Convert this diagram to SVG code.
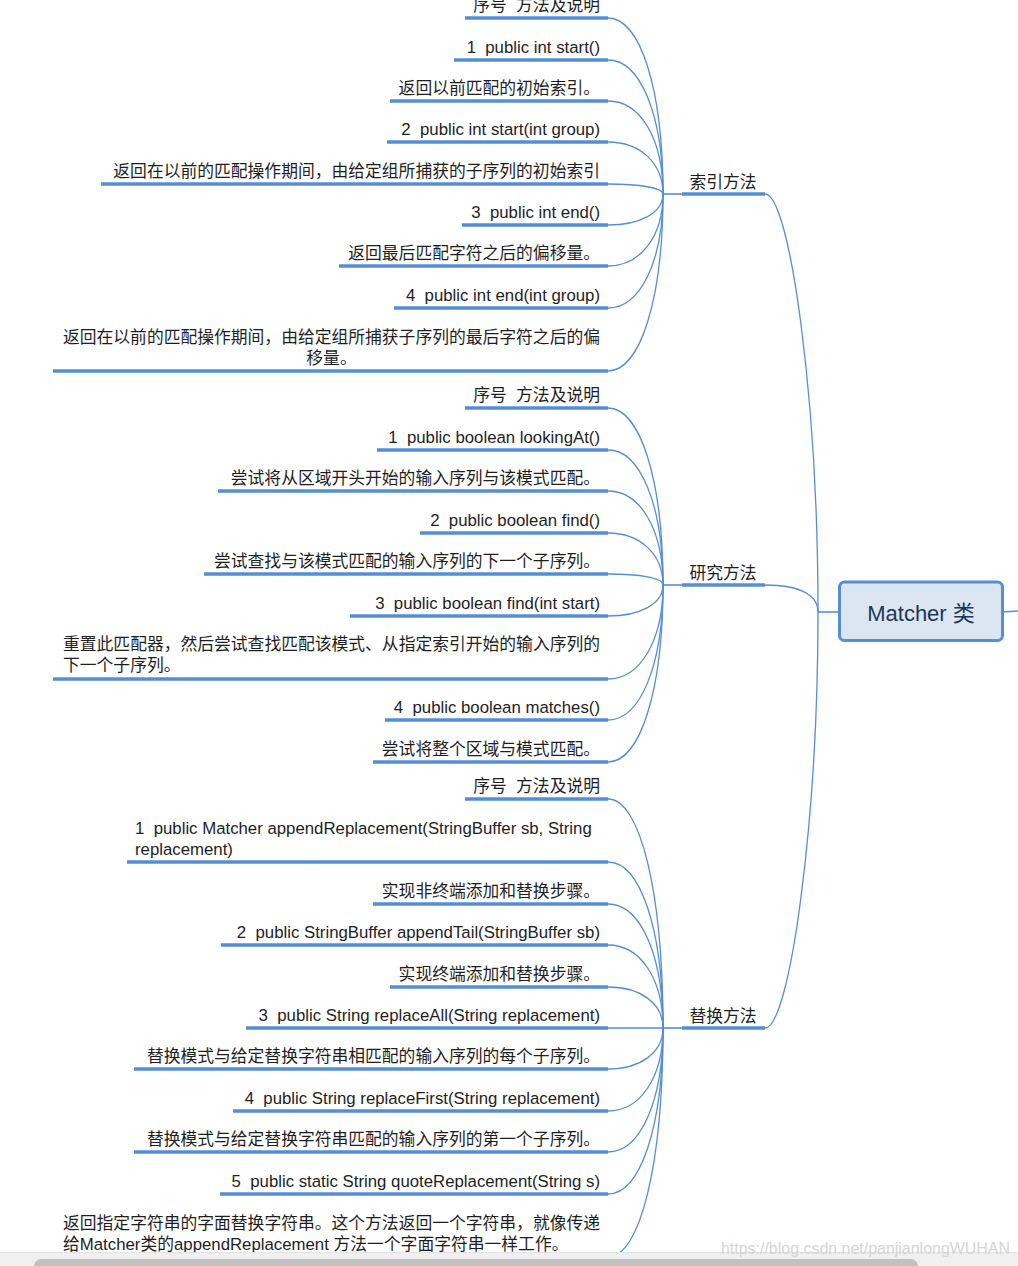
<svg xmlns="http://www.w3.org/2000/svg" width="1018" height="1266" viewBox="0 0 1018 1266">
<style>
text{font-family:"Liberation Sans","Noto Sans CJK SC",sans-serif;font-size:16.8px;fill:#1e1e1e;white-space:pre}
.r{text-anchor:end}
.m{text-anchor:middle}
.ul{stroke:#558ed5;stroke-width:3.4;fill:none}
.c{stroke:#558ed5;stroke-width:1.3;fill:none}
.cb{stroke:#558ed5;stroke-width:1.6;fill:none}
</style>
<rect width="1018" height="1266" fill="#ffffff"/>
<g id="connectors">
<path class="c" d="M608,18 C640,18 663,88 663,194"/>
<path class="c" d="M608,60 C640,60 663,114 663,194"/>
<path class="c" d="M608,101 C640,101 663,138 663,194"/>
<path class="c" d="M608,142 C640,142 663,163 663,194"/>
<path class="c" d="M608,184 C640,184 663,188 663,194"/>
<path class="c" d="M608,225 C640,225 663,213 663,194"/>
<path class="c" d="M608,266 C640,266 663,237 663,194"/>
<path class="c" d="M608,308 C640,308 663,262 663,194"/>
<path class="c" d="M608,371 C640,371 663,300 663,194"/>
<path class="cb" d="M663,194 L682,194"/>
<path class="c" d="M608,408 C640,408 663,479 663,585"/>
<path class="c" d="M608,450 C640,450 663,504 663,585"/>
<path class="c" d="M608,491 C640,491 663,529 663,585"/>
<path class="c" d="M608,533 C640,533 663,554 663,585"/>
<path class="c" d="M608,574 C640,574 663,578 663,585"/>
<path class="c" d="M608,616 C640,616 663,604 663,585"/>
<path class="c" d="M608,679 C640,679 663,641 663,585"/>
<path class="c" d="M608,720 C640,720 663,666 663,585"/>
<path class="c" d="M608,762 C640,762 663,691 663,585"/>
<path class="cb" d="M663,585 L682,585"/>
<path class="c" d="M608,799 C640,799 663,891 663,1028"/>
<path class="c" d="M608,862 C640,862 663,928 663,1028"/>
<path class="c" d="M608,904 C640,904 663,954 663,1028"/>
<path class="c" d="M608,945 C640,945 663,978 663,1028"/>
<path class="c" d="M608,987 C640,987 663,1003 663,1028"/>
<path class="c" d="M608,1028 L663,1028"/>
<path class="c" d="M608,1069 C640,1069 663,1053 663,1028"/>
<path class="c" d="M608,1111 C640,1111 663,1078 663,1028"/>
<path class="c" d="M608,1152 C640,1152 663,1102 663,1028"/>
<path class="c" d="M608,1194 C640,1194 663,1128 663,1028"/>
<path class="c" d="M608,1257 C640,1257 663,1165 663,1028"/>
<path class="cb" d="M663,1028 L682,1028"/>
<path class="c" d="M765,194 C790,194 818,400 818,612"/>
<path class="c" d="M765,585 C800,585 818,595 818,612"/>
<path class="c" d="M765,1028 C790,1028 818,820 818,612"/>
<path class="cb" d="M818,612 L840,612"/>
<path class="cb" d="M1002,612 L1018,611"/>
</g>
<g id="n-root">
<rect x="839.5" y="582" width="163" height="58.5" rx="5" fill="#dce6f2" stroke="#558ed5" stroke-width="3"/>
<text class="m" x="921" y="621" style="font-size:22px;fill:#1b3658">Matcher 类</text>
</g>
<g id="b-index">
<line class="ul" x1="682" y1="194" x2="765" y2="194"/>
<text class="m" x="723" y="188">索引方法</text>
</g>
<g id="b-study">
<line class="ul" x1="682" y1="585" x2="765" y2="585"/>
<text class="m" x="723" y="579">研究方法</text>
</g>
<g id="b-replace">
<line class="ul" x1="682" y1="1028" x2="765" y2="1028"/>
<text class="m" x="723" y="1022">替换方法</text>
</g>
<g id="l1-1"><line class="ul" x1="465" y1="18" x2="608" y2="18"/><text class="r" x="600" y="11">序号  方法及说明</text></g>
<g id="l1-2"><line class="ul" x1="454" y1="60" x2="608" y2="60"/><text class="r" x="600" y="53">1  public int start()</text></g>
<g id="l1-3"><line class="ul" x1="390" y1="101" x2="608" y2="101"/><text class="r" x="600" y="94">返回以前匹配的初始索引。</text></g>
<g id="l1-4"><line class="ul" x1="387" y1="142" x2="608" y2="142"/><text class="r" x="600" y="135">2  public int start(int group)</text></g>
<g id="l1-5"><line class="ul" x1="101" y1="184" x2="608" y2="184"/><text class="r" x="600" y="177">返回在以前的匹配操作期间，由给定组所捕获的子序列的初始索引</text></g>
<g id="l1-6"><line class="ul" x1="462" y1="225" x2="608" y2="225"/><text class="r" x="600" y="218">3  public int end()</text></g>
<g id="l1-7"><line class="ul" x1="339" y1="266" x2="608" y2="266"/><text class="r" x="600" y="259">返回最后匹配字符之后的偏移量。</text></g>
<g id="l1-8"><line class="ul" x1="394" y1="308" x2="608" y2="308"/><text class="r" x="600" y="301">4  public int end(int group)</text></g>
<g id="l1-9"><line class="ul" x1="53" y1="371" x2="608" y2="371"/><text class="m" x="331.5" y="343">返回在以前的匹配操作期间，由给定组所捕获子序列的最后字符之后的偏</text><text class="m" x="331.5" y="364">移量。</text></g>
<g id="l2-1"><line class="ul" x1="465" y1="408" x2="608" y2="408"/><text class="r" x="600" y="401">序号  方法及说明</text></g>
<g id="l2-2"><line class="ul" x1="377" y1="450" x2="608" y2="450"/><text class="r" x="600" y="443">1  public boolean lookingAt()</text></g>
<g id="l2-3"><line class="ul" x1="218" y1="491" x2="608" y2="491"/><text class="r" x="600" y="484">尝试将从区域开头开始的输入序列与该模式匹配。</text></g>
<g id="l2-4"><line class="ul" x1="420" y1="533" x2="608" y2="533"/><text class="r" x="600" y="526">2  public boolean find()</text></g>
<g id="l2-5"><line class="ul" x1="204" y1="574" x2="608" y2="574"/><text class="r" x="600" y="567">尝试查找与该模式匹配的输入序列的下一个子序列。</text></g>
<g id="l2-6"><line class="ul" x1="350" y1="616" x2="608" y2="616"/><text class="r" x="600" y="609">3  public boolean find(int start)</text></g>
<g id="l2-7"><line class="ul" x1="53" y1="679" x2="608" y2="679"/><text x="63" y="650">重置此匹配器，然后尝试查找匹配该模式、从指定索引开始的输入序列的</text><text x="63" y="671">下一个子序列。</text></g>
<g id="l2-8"><line class="ul" x1="385" y1="720" x2="608" y2="720"/><text class="r" x="600" y="713">4  public boolean matches()</text></g>
<g id="l2-9"><line class="ul" x1="373" y1="762" x2="608" y2="762"/><text class="r" x="600" y="755">尝试将整个区域与模式匹配。</text></g>
<g id="l3-1"><line class="ul" x1="465" y1="799" x2="608" y2="799"/><text class="r" x="600" y="792">序号  方法及说明</text></g>
<g id="l3-2"><line class="ul" x1="127" y1="862" x2="608" y2="862"/><text x="135" y="834">1  public Matcher appendReplacement(StringBuffer sb, String</text><text x="135" y="855">replacement)</text></g>
<g id="l3-3"><line class="ul" x1="373" y1="904" x2="608" y2="904"/><text class="r" x="600" y="897">实现非终端添加和替换步骤。</text></g>
<g id="l3-4"><line class="ul" x1="221" y1="945" x2="608" y2="945"/><text class="r" x="600" y="938">2  public StringBuffer appendTail(StringBuffer sb)</text></g>
<g id="l3-5"><line class="ul" x1="390" y1="987" x2="608" y2="987"/><text class="r" x="600" y="980">实现终端添加和替换步骤。</text></g>
<g id="l3-6"><line class="ul" x1="246" y1="1028" x2="608" y2="1028"/><text class="r" x="600" y="1021">3  public String replaceAll(String replacement)</text></g>
<g id="l3-7"><line class="ul" x1="134" y1="1069" x2="608" y2="1069"/><text class="r" x="600" y="1062">替换模式与给定替换字符串相匹配的输入序列的每个子序列。</text></g>
<g id="l3-8"><line class="ul" x1="233" y1="1111" x2="608" y2="1111"/><text class="r" x="600" y="1104">4  public String replaceFirst(String replacement)</text></g>
<g id="l3-9"><line class="ul" x1="134" y1="1152" x2="608" y2="1152"/><text class="r" x="600" y="1145">替换模式与给定替换字符串匹配的输入序列的第一个子序列。</text></g>
<g id="l3-10"><line class="ul" x1="220" y1="1194" x2="608" y2="1194"/><text class="r" x="600" y="1187">5  public static String quoteReplacement(String s)</text></g>
<g id="l3-11"><line class="ul" x1="53" y1="1257" x2="608" y2="1257"/><text x="63" y="1229">返回指定字符串的字面替换字符串。这个方法返回一个字符串，就像传递</text><text x="63" y="1250">给Matcher类的appendReplacement 方法一个字面字符串一样工作。</text></g>
<g id="scrollbar">
<rect x="0" y="1252" width="1018" height="14" fill="#f0f0f0"/>
<line x1="0" y1="1252.5" x2="1018" y2="1252.5" stroke="#e2e2e2" stroke-width="1"/>
<rect x="34" y="1259" width="884" height="14" rx="7" fill="#c1c1c1"/>
</g>
<text x="721" y="1254" textLength="289" lengthAdjust="spacingAndGlyphs" style="font-size:17px;fill:#d4d4d4">https://blog.csdn.net/panjianlongWUHAN</text>
</svg>
